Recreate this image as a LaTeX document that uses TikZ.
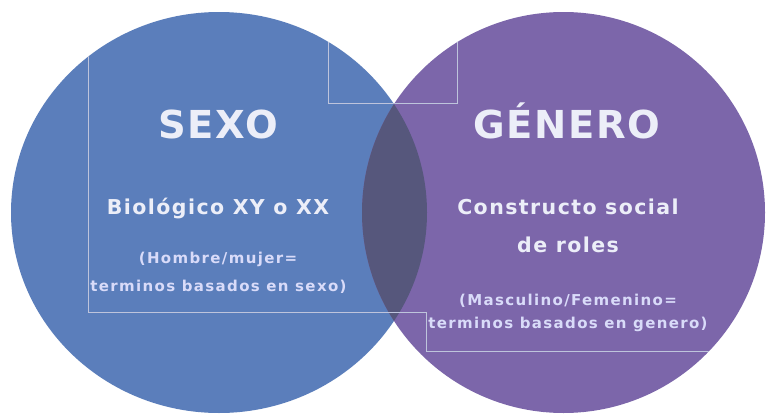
\documentclass[tikz,border=0pt]{standalone}
\usepackage{fontspec}
\setmainfont{DejaVu Sans}
\newfontfamily\titlefont{DejaVu Sans}[LetterSpace=4]
\newfontfamily\midfont{DejaVu Sans}[LetterSpace=7]
\newfontfamily\smallfont{DejaVu Sans}[LetterSpace=9]
\definecolor{sexoblue}{RGB}{91,126,187}
\definecolor{generopurple}{RGB}{124,102,170}
\definecolor{lensdark}{RGB}{86,87,124}
\definecolor{txtwhite}{RGB}{236,238,248}
\definecolor{boxline}{RGB}{190,196,220}
\tikzset{
  title/.style={text=txtwhite, anchor=base, inner sep=0pt, font=\titlefont\bfseries\fontsize{38.5}{40}\selectfont},
  midtext/.style={text=txtwhite, anchor=base, inner sep=0pt, font=\midfont\bfseries\fontsize{20.5}{22}\selectfont},
  smalltext/.style={text=txtwhite!92!blue, anchor=base, inner sep=0pt, font=\smallfont\bfseries\fontsize{15}{17}\selectfont},
  frameline/.style={draw=boxline, line width=0.7pt}
}
\begin{document}
\begin{tikzpicture}[x=1pt,y=-1pt]
\useasboundingbox (0,0) rectangle (768,415);
\fill[white] (0,0) rectangle (768,415);
% circles
\fill[sexoblue] (219,212.5) ellipse [x radius=208, y radius=200.5];
\fill[generopurple] (563.5,212.5) ellipse [x radius=201.5, y radius=200.5];
\begin{scope}
  \clip (219,212.5) ellipse [x radius=208, y radius=200.5];
  \fill[lensdark] (563.5,212.5) ellipse [x radius=201.5, y radius=200.5];
\end{scope}
% faint frame lines, visible only over the circles
\begin{scope}
  \clip (219,212.5) ellipse [x radius=208, y radius=200.5];
  \draw[frameline] (88,0) -- (88,312) -- (426,312) -- (426,351) -- (740,351);
  \draw[frameline] (328,0) -- (328,103) -- (457,103) -- (457,0);
\end{scope}
\begin{scope}
  \clip (563.5,212.5) ellipse [x radius=201.5, y radius=200.5];
  \draw[frameline] (88,0) -- (88,312) -- (426,312) -- (426,351) -- (740,351);
  \draw[frameline] (328,0) -- (328,103) -- (457,103) -- (457,0);
\end{scope}
% texts
\node[title] (sexo) at (218,138) {SEXO};
\node[title] (genero) at (567,138) {GÉNERO};
\node[midtext] (bio) at (218,214) {Biológico XY o XX};
\node[smalltext] (hom) at (218,263) {(Hombre/mujer=};
\node[smalltext] (tsexo) at (218.5,291) {terminos basados en sexo)};
\node[midtext] (cons) at (568,214) {Constructo social};
\node[midtext] (roles) at (568,252.5) {de roles};
\node[smalltext] (masc) at (568,305.5) {(Masculino/Femenino=};
\node[smalltext] (tgen) at (568,328.5) {terminos basados en genero)};
\end{tikzpicture}
\end{document}
